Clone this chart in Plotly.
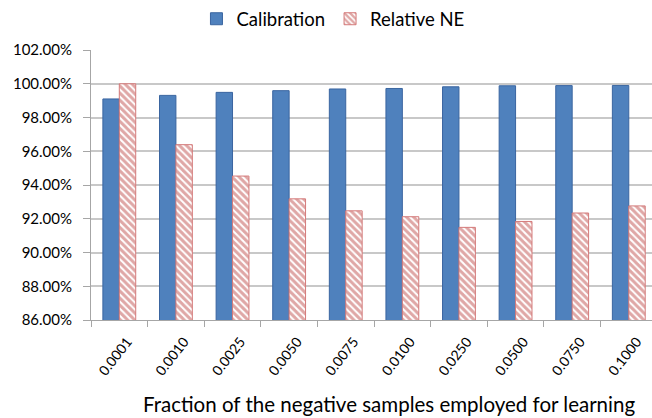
import plotly.graph_objects as go

categories = ["0.0001", "0.0010", "0.0025", "0.0050", "0.0075",
              "0.0100", "0.0250", "0.0500", "0.0750", "0.1000"]
calibration = [0.9910, 0.9931, 0.9949, 0.9959, 0.9969,
               0.9972, 0.9982, 0.9988, 0.9989, 0.9990]
relative_ne = [1.0000, 0.9639, 0.9453, 0.9318, 0.9247,
               0.9212, 0.9149, 0.9184, 0.9234, 0.9276]
y_ticks = [0.86, 0.88, 0.90, 0.92, 0.94, 0.96, 0.98, 1.00, 1.02]
x_title = "Fraction of the negative samples employed for learning"

FONT = "Lato, Noto Sans, sans-serif"

fig = go.Figure()
fig.add_trace(go.Bar(
    x=categories, y=calibration, name="Calibration",
    marker=dict(color="#4F81BD", line=dict(color="#3A65A0", width=1)),
))
fig.add_trace(go.Bar(
    x=categories, y=relative_ne, name="Relative NE",
    marker=dict(color="white",
                line=dict(color="#D47A7A", width=1),
                pattern=dict(shape="\\", fgcolor="#C0504D", bgcolor="white",
                             size=5, solidity=0.6)),
))

fig.add_annotation(
    text=x_title, xref="paper", yref="paper", x=0.531, y=-0.3125,
    xanchor="center", yanchor="middle", showarrow=False,
    font=dict(size=20.5, family=FONT, color="black"),
)

fig.update_layout(
    width=652, height=418,
    margin=dict(l=91, r=0, t=48, b=98),
    paper_bgcolor="white", plot_bgcolor="white",
    barmode="group", bargap=0.42, bargroupgap=0,
    font=dict(family=FONT, size=15, color="black"),
    showlegend=True,
    legend=dict(orientation="h", x=0.188, xanchor="left", y=1.114, yanchor="middle",
                font=dict(size=18.5, family=FONT), itemwidth=30,
                traceorder="normal", bgcolor="rgba(0,0,0,0)"),
    xaxis=dict(
        type="category", range=[-0.5, 9.41], automargin=False,
        tickangle=-52, tickson="boundaries", ticks="outside", ticklen=6,
        tickcolor="#A6A6A6", showline=True, linecolor="#A6A6A6", linewidth=1,
        showgrid=False, ticklabelshift=8, ticklabelstandoff=7,
        tickfont=dict(size=14),
    ),
    yaxis=dict(
        range=[0.86, 1.02], tickvals=y_ticks, tickformat=".2%", automargin=False,
        ticks="outside", ticklen=7, tickcolor="#A6A6A6", ticklabelstandoff=8,
        showline=True, linecolor="#A6A6A6", linewidth=1,
        showgrid=True, gridcolor="#C8C8C8", gridwidth=1.5,
        zeroline=False, tickfont=dict(size=15),
    ),
)

fig.write_html("out.html", config={"displayModeBar": False},
               post_script="document.body.style.margin='0px';")
